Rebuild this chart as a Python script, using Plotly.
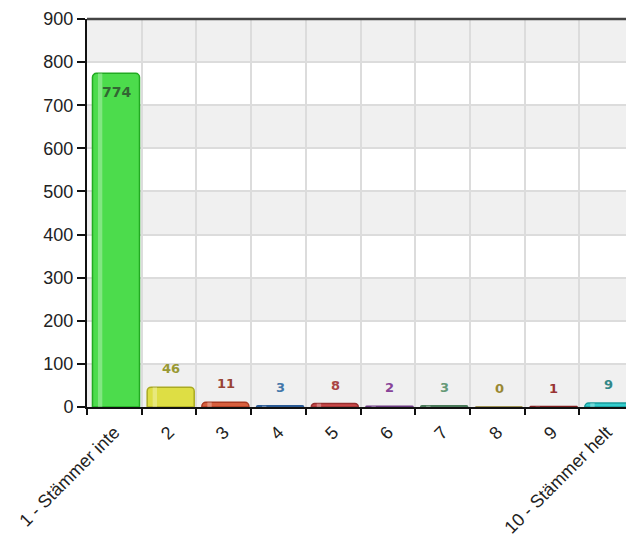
import plotly.graph_objects as go

categories = ["1 - Stämmer inte", "2", "3", "4", "5", "6", "7", "8", "9", "10 - Stämmer helt"]
values = [774, 46, 11, 3, 8, 2, 3, 0, 1, 9]
bar_colors = ["#4cdc4c", "#dede44", "#d8603e", "#4a86c4", "#c84848", "#9a58b0", "#6a9a7a", "#b0a040", "#aa3838", "#34cccc"]
line_colors = ["#22aa22", "#aaaa22", "#aa3a22", "#2a5a94", "#963030", "#6a3a80", "#4a7a5a", "#807020", "#802020", "#1a9a9a"]
label_colors = ["#336633", "#999933", "#994433", "#4477aa", "#aa4444", "#884499", "#669977", "#998833", "#993333", "#338888"]
y_ticks = [0, 100, 200, 300, 400, 500, 600, 700, 800, 900]

fig = go.Figure()

# alternating bands
for i in range(0, len(y_ticks) - 1, 2):
    fig.add_shape(type="rect", xref="paper", yref="y", x0=0, x1=1,
                  y0=y_ticks[i], y1=y_ticks[i + 1], fillcolor="#f0f0f0",
                  line_width=0, layer="below")

fig.add_trace(go.Bar(
    x=categories, y=values,
    marker=dict(color=bar_colors, line=dict(color=line_colors, width=1.5), cornerradius=4),
    width=0.86, offset=-0.4,
    hoverinfo="x+y",
))
# glossy highlight stripe
fig.add_trace(go.Bar(
    x=categories, y=values,
    marker=dict(color="rgba(255,255,255,0.3)", line=dict(width=0)),
    width=0.08, offset=-0.3,
    hoverinfo="skip",
))

for i, v in enumerate(values):
    if v > 300:
        fig.add_annotation(x=i, y=v, text=f"<b>{v}</b>", showarrow=False,
                           yanchor="top", yshift=-9, xshift=2,
                           font=dict(family="DejaVu Sans", size=14, color=label_colors[i]))
    else:
        fig.add_annotation(x=i, y=v, text=f"<b>{v}</b>", showarrow=False,
                           yanchor="bottom", yshift=9, xshift=2,
                           font=dict(family="DejaVu Sans", size=13, color=label_colors[i]))

# top border line
fig.add_shape(type="line", xref="paper", yref="paper", x0=0, x1=1, y0=1, y1=1,
              line=dict(color="#444444", width=2.5))

fig.update_layout(
    width=626, height=533,
    margin=dict(l=79, r=0, t=11, b=134),
    paper_bgcolor="white", plot_bgcolor="white",
    showlegend=False, barmode="overlay",
    font=dict(family="Liberation Sans, Arial, sans-serif", color="#222222"),
)
fig.update_xaxes(
    type="category", tickson="boundaries", ticks="outside", ticklen=6, tickwidth=1.5,
    tickcolor="#111111", tickangle=-45, tickfont=dict(size=18, color="#222222"),
    ticklabelstandoff=6,
    showgrid=True, gridcolor="#dcdcdc", gridwidth=1.5,
    showline=True, linecolor="#111111", linewidth=1.5,
    range=[-0.5, 9.5], automargin=False,
)
fig.update_yaxes(
    range=[0, 900], tickvals=y_ticks, ticks="outside", ticklen=8, tickwidth=1.5,
    tickcolor="#111111", tickfont=dict(size=18, color="#222222"),
    showgrid=True, gridcolor="#dcdcdc", gridwidth=1.5,
    showline=True, linecolor="#111111", linewidth=2, zeroline=False,
    automargin=False,
)

fig.write_html("out.html")
